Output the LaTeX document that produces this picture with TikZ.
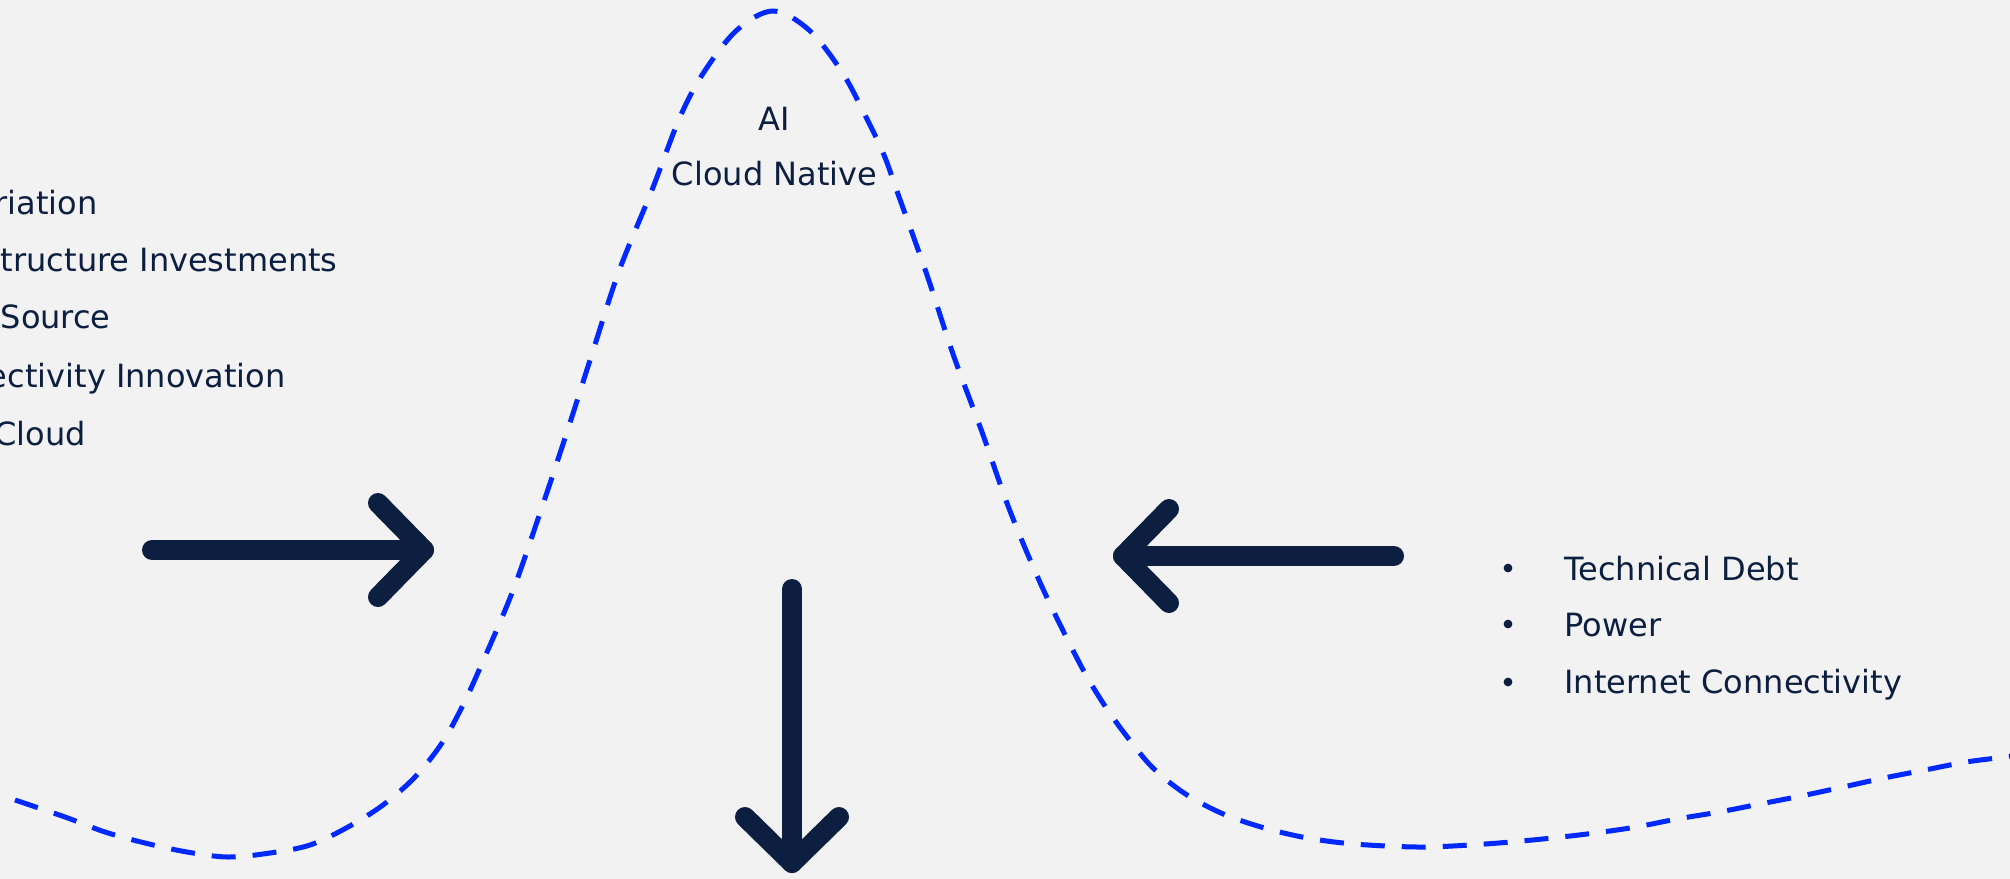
\documentclass[tikz,border=0pt]{standalone}
\usepackage{fontspec}
\setmainfont{DejaVu Sans}
\definecolor{bg}{HTML}{F2F2F2}
\definecolor{navy}{HTML}{0C1F40}
\definecolor{dashblue}{HTML}{0029FF}
\begin{document}
\begin{tikzpicture}[x=0.5pt,y=-0.5pt,
  txt/.style={inner sep=0pt, text=navy, font=\fontsize{16pt}{19pt}\selectfont},
  bul/.style={circle, fill=navy, inner sep=0pt, minimum size=4.4pt},
  arrowline/.style={draw=navy, line width=10pt, line cap=round, line join=round},
  curve/.style={draw=dashblue, line width=2.5pt, dash pattern=on 12pt off 8.5pt}]
\useasboundingbox (0,0) rectangle (2010,879);
\fill[bg] (0,0) rectangle (2010,879);
\begin{scope}
\clip (0,0) rectangle (2010,879);
\draw[curve] plot[smooth, tension=0.55] coordinates {
(15,800) (65,817) (105,832) (145,843) (187,852) (228,857) (270,853) (310,845)
(348,827) (383,805) (415,777) (442,743) (462,707) (480,668) (512,593) (540,513)
(567,432) (592,354) (619,271) (652,190) (680,117) (704,72) (737,30)
(773,11) (809,30) (842,72) (866,117) (884,155) (898,194) (927,275)
(953,354) (982,432) (1010,511) (1043,589) (1080,664) (1103,703) (1125,734)
(1152,767) (1184,793) (1221,813) (1261,827) (1302,837) (1343,843) (1386,846)
(1427,847) (1470,845) (1511,842) (1552,838) (1595,833) (1636,827) (1677,819)
(1719,812) (1760,804) (1801,796) (1843,787) (1884,778) (1925,770) (1966,762)
(2005,757) (2030,753)};
\end{scope}
% left list (cut off at the left edge)
\node[txt, anchor=base east] (l1) at (98,214) {riation};
\node[txt, anchor=base east] (l2) at (338,271) {tructure Investments};
\node[txt, anchor=base east] (l3) at (111,328) {Source};
\node[txt, anchor=base east] (l4) at (286,387) {ectivity Innovation};
\node[txt, anchor=base east] (l5) at (86,445) {Cloud};
% peak labels
\node[txt, anchor=base] (ai) at (774,130) {AI};
\node[txt, anchor=base] (cn) at (774.5,185) {Cloud Native};
% right list
\node[bul] (b1) at (1508,568) {};
\node[bul] (b2) at (1508,624) {};
\node[bul] (b3) at (1508,682) {};
\node[txt, anchor=base west] (r1) at (1564,580) {Technical Debt};
\node[txt, anchor=base west] (r2) at (1564,636) {Power};
\node[txt, anchor=base west] (r3) at (1564,693) {Internet Connectivity};
% arrows
\coordinate (la0) at (152,550);
\coordinate (la1) at (424,550);
\coordinate (la2) at (378,503);
\coordinate (la3) at (378,597);
\draw[arrowline] (la0) -- (la1);
\draw[arrowline] (la2) -- (la1) -- (la3);
\coordinate (ra0) at (1394,556);
\coordinate (ra1) at (1123,556);
\coordinate (ra2) at (1169,509);
\coordinate (ra3) at (1169,603);
\draw[arrowline] (ra0) -- (ra1);
\draw[arrowline] (ra2) -- (ra1) -- (ra3);
\coordinate (da0) at (792,589);
\coordinate (da1) at (792,863);
\coordinate (da2) at (745,817);
\coordinate (da3) at (839,817);
\draw[arrowline] (da0) -- (da1);
\draw[arrowline] (da2) -- (da1) -- (da3);
\end{tikzpicture}
\end{document}
